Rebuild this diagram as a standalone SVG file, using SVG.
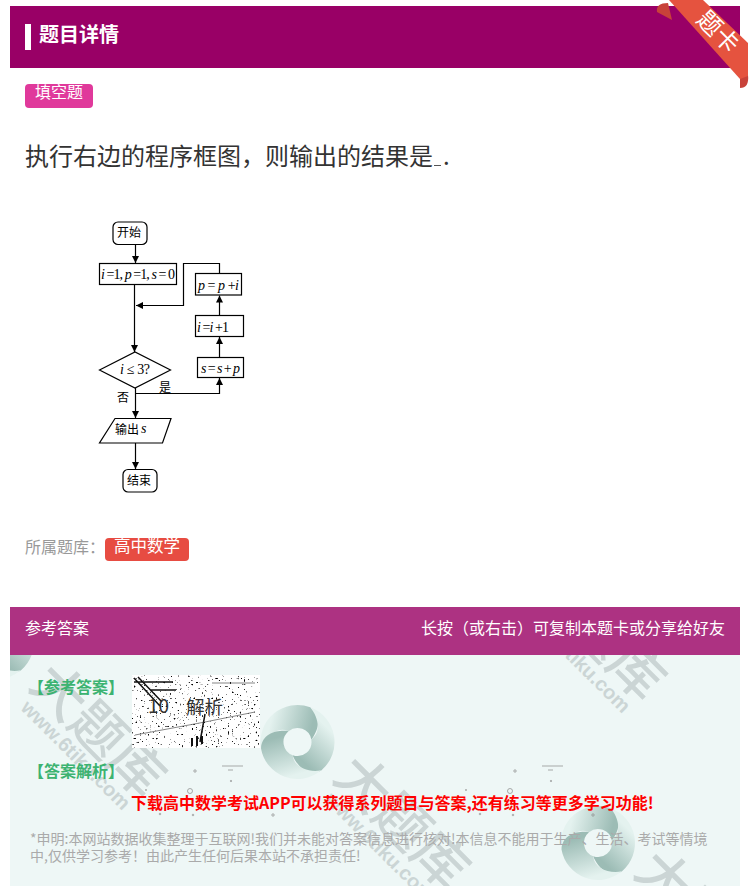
<svg xmlns="http://www.w3.org/2000/svg" xmlns:xlink="http://www.w3.org/1999/xlink" width="750" height="886" viewBox="0 0 750 886">
<style>
.t{font-family:"Noto Sans CJK SC","Liberation Sans",sans-serif}
.fc{fill:#fff;stroke:#000;stroke-width:1.2}
.ln{fill:none;stroke:#000;stroke-width:1.2}
.cn{font-family:"Noto Sans CJK SC",sans-serif;font-size:12px;fill:#000}
.m{font-family:"Liberation Serif",serif;font-style:italic;font-size:14px;fill:#000}
.m tspan{font-style:normal}
.wm{font-family:"Noto Sans CJK SC",sans-serif;font-weight:500;font-size:54px;fill:#cbd5d5;text-anchor:middle}
.wu{font-family:"Liberation Sans",sans-serif;font-weight:700;font-size:20px;fill:#cbd5d5;text-anchor:middle}
</style>
<defs>
<marker id="ah" viewBox="0 0 8 8" refX="8" refY="4" markerWidth="7" markerHeight="7" markerUnits="userSpaceOnUse" orient="auto"><path d="M0 0L8 4L0 8z" fill="#000"/></marker>
<linearGradient id="g1" gradientUnits="userSpaceOnUse" x1="-26" y1="-24" x2="14" y2="-14"><stop offset="0" stop-color="#e4f2ef"/><stop offset="1" stop-color="#9cbcb5"/></linearGradient>
<clipPath id="pc"><rect x="10" y="655" width="730" height="231"/></clipPath>
<filter id="noise" x="0" y="0" width="1" height="1"><feTurbulence type="fractalNoise" baseFrequency="0.5" numOctaves="3" seed="4"/><feColorMatrix values="0 0 0 0 0 0 0 0 0 0 0 0 0 0 0 12 0 0 0 -8"/></filter>
<g id="wmk"><g transform="translate(98,730) rotate(45)"><text class="wm" y="19">大题库</text></g><g transform="translate(76,755) rotate(45)"><text class="wu" y="7">www.6tiku.com</text></g></g>
<path id="blade" d="M-36.400 6.400A37 37 0 0 1 12.700-34.800C26-26 20-10 13.800-2.400A14 14 0 0 0-9-10.700C-20-16-32-6-36.400 6.400Z" fill="url(#g1)"/>
<g id="logo"><use href="#blade"/><use href="#blade" transform="rotate(120)"/><use href="#blade" transform="rotate(240)"/></g>
<g id="specks" fill="none" stroke="#888" stroke-width=".7"><circle cx="195" cy="771" r="1.200"/><path d="M222 766H243M228 770H233"/><circle cx="231" cy="781" r=".7"/><circle cx="190" cy="791" r="2.500"/><circle cx="160" cy="814" r=".8"/><circle cx="193" cy="815" r=".8"/><circle cx="273" cy="815" r="1.200"/><circle cx="146" cy="790" r=".6"/></g>
</defs>
<rect width="750" height="886" fill="#fff"/>
<g id="header">
<rect x="10" y="6" width="730" height="62" fill="#990066"/>
<rect x="25" y="24" width="6" height="26" fill="#fff"/>
<text class="t" x="39" y="41.500" font-size="20" font-weight="700" fill="#fff">题目详情</text>
</g>
<g id="ribbon">
<path d="M668 3C660 3 656 6 657 12L672 20Z" fill="#c8423a"/>
<path d="M740 78L740 88C746 88 749 84 748 75Z" fill="#c8423a"/>
<path d="M669 0H703L748 43V76L740 79Z" fill="#e5533f"/>
<text class="t" font-size="24" fill="#fff" transform="translate(718,32) rotate(45)" text-anchor="middle" y="8">题卡</text>
</g>
<g id="tag-type"><rect x="25" y="84" width="68" height="24" rx="4" fill="#e0399b"/><text class="t" x="35" y="98" font-size="16" fill="#fff">填空题</text></g>
<g id="question"><text class="t" x="25" y="165" font-size="24" fill="#333">执行右边的程序框图&#xFF0C;则输出的结果是</text><path d="M434 165.500H441" stroke="#555" stroke-width="1"/><text class="t" x="443" y="165" font-size="24" fill="#333">.</text></g>
<g id="connectors">
<path class="ln" d="M135.500 244V263" marker-end="url(#ah)"/>
<path class="ln" d="M134.500 285V352" marker-end="url(#ah)"/>
<path class="ln" d="M219.500 273V263.500H183.500V305.500H136" marker-end="url(#ah)"/>
<path class="ln" d="M219.500 315V295.500" marker-end="url(#ah)"/>
<path class="ln" d="M219.500 357V337" marker-end="url(#ah)"/>
<path class="ln" d="M135.500 388V418" marker-end="url(#ah)"/>
<path class="ln" d="M135.500 393.500H219.500V378" marker-end="url(#ah)"/>
<path class="ln" d="M135.500 443V469" marker-end="url(#ah)"/>
<text class="cn" x="159" y="392">是</text>
<text class="cn" x="117" y="402">否</text>
</g>
<g id="n-start"><rect class="fc" x="113" y="222" width="34" height="22.500" rx="5"/><text class="cn" x="117" y="237">开始</text></g>
<g id="n-init"><rect class="fc" x="99.500" y="263.500" width="77" height="21"/><text class="m" x="101" y="279" textLength="74">i <tspan>=1,</tspan> p <tspan>=1,</tspan> s <tspan>= 0</tspan></text></g>
<g id="n-p"><rect class="fc" x="195.500" y="273.500" width="46" height="21.500"/><text class="m" x="198" y="290" textLength="41">p <tspan>=</tspan> p <tspan>+</tspan>i</text></g>
<g id="n-i"><rect class="fc" x="195.500" y="315.500" width="48" height="21"/><text class="m" x="197" y="332" textLength="32">i <tspan>=</tspan>i <tspan>+1</tspan></text></g>
<g id="n-s"><rect class="fc" x="197.500" y="357.500" width="46" height="20"/><text class="m" x="201" y="373" textLength="39">s <tspan>=</tspan> s <tspan>+</tspan> p</text></g>
<g id="n-cond"><path class="fc" d="M99.500 370L135 352L170.500 370L135 388Z"/><text class="m" x="120" y="374" textLength="30">i <tspan>≤ 3?</tspan></text></g>
<g id="n-out"><path class="fc" d="M115 418.500H171L162.500 443H99.500Z"/><text class="cn" x="115" y="434">输出</text><text class="m" x="141" y="433">s</text></g>
<g id="n-end"><rect class="fc" x="123" y="469.500" width="34" height="22.500" rx="5"/><text class="cn" x="127" y="485">结束</text></g>
<g id="bank"><text class="t" x="25" y="553" font-size="16" fill="#999">所属题库&#xFF1A;</text><rect x="105" y="538" width="84" height="23" rx="4" fill="#e74c42"/><text class="t" x="114" y="552" font-size="16.500" fill="#fff">高中数学</text></g>
<g id="answer-panel">
<rect x="10" y="655" width="730" height="231" fill="#eef7f6"/>
<g clip-path="url(#pc)">
<use href="#wmk"/><use href="#wmk" transform="translate(500,-97)"/><use href="#wmk" transform="translate(304,92)"/><use href="#wmk" transform="translate(605,187)"/>
<use href="#logo" transform="translate(-3,642)"/>
<use href="#logo" transform="translate(297.500,742)"/>
<use href="#logo" transform="translate(598,843)"/>
</g>
<rect x="10" y="607" width="730" height="48" fill="#ad3282"/>
<text class="t" x="25" y="634" font-size="16" fill="#fff">参考答案</text>
<text class="t" x="725" y="634" font-size="16" fill="#fff" text-anchor="end">长按&#xFF08;或右击&#xFF09;可复制本题卡或分享给好友</text>
<text class="t" x="28" y="693" font-size="16" font-weight="700" fill="#3cb371">【参考答案】</text>
<g id="answer-img"><rect x="132" y="675" width="128" height="73" fill="#fff"/><rect x="132" y="675" width="128" height="73" filter="url(#noise)"/><path d="M134 678L160 706M138 677L162 702M134 682H172M150 690H176M205 714L200 742" fill="none" stroke="#111" stroke-width="1.500"/><path d="M212 683H255M135 735L205 722L255 712" fill="none" stroke="#333" stroke-width=".6"/><path d="M192 738V746M197 736V746M202 736V744" stroke="#111" stroke-width="2"/><text class="t" x="148" y="713" font-size="19" fill="#333">10</text><text class="t" x="186" y="714" font-size="18.500" fill="#333">解析</text></g>
<text class="t" x="28" y="777" font-size="16" font-weight="700" fill="#3cb371">【答案解析】</text>
<use href="#specks"/><use href="#specks" transform="translate(320,0)"/>
<text class="t" x="131" y="809" font-size="16" font-weight="700" fill="#f00">下载高中数学考试APP可以获得系列题目与答案,还有练习等更多学习功能!</text>
<text class="t" x="30" y="844" font-size="14" fill="#aaa">*申明:本网站数据收集整理于互联网!我们并未能对答案信息进行核对!本信息不能用于生产、生活、考试等情境</text>
<text class="t" x="30" y="861" font-size="14" fill="#aaa">中,仅供学习参考&#xFF01;由此产生任何后果本站不承担责任!</text>
</g>
</svg>
